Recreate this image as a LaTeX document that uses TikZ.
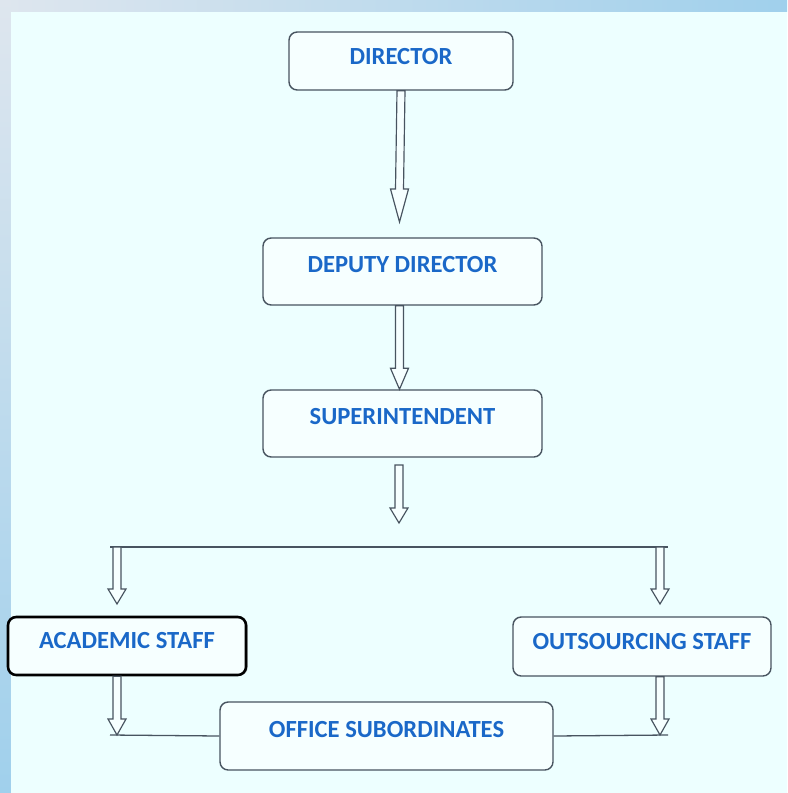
\documentclass[tikz,border=0pt]{standalone}
\usepackage{fontspec}
\setmainfont{Carlito}
\usetikzlibrary{calc,shadows}
\definecolor{bgcyan}{RGB}{237,255,255}
\definecolor{framegray}{RGB}{222,230,238}
\definecolor{frameblue}{RGB}{160,208,236}
\definecolor{boxfill}{RGB}{246,255,255}
\definecolor{boxline}{RGB}{72,84,96}
\definecolor{titleblue}{RGB}{26,104,200}
\newcommand{\hollowarrow}[3]{%
	\draw[arrowline] ($(#1)+(-4,0)$) -- ($(#2)+(-4,#3)$) -- ($(#2)+(-9,#3)$) -- (#2)
		-- ($(#2)+(9,#3)$) -- ($(#2)+(4,#3)$) -- ($(#1)+(4,0)$) -- cycle;}
\begin{document}
\begin{tikzpicture}[x=0.03cm, y=0.03cm]
		\tikzstyle{post}=[draw=boxline, line width=1.2pt, rounded corners=7pt, fill=boxfill, inner sep=0pt, text=titleblue, font=\fontsize{21}{24}\selectfont\bfseries, text height=0.55cm, text depth=0.49cm]
		\tikzstyle{marked}=[draw=black, line width=2.2pt, drop shadow={shadow xshift=1.5pt, shadow yshift=-0.5pt, opacity=0.45, fill=gray}]
		\tikzstyle{arrowline}=[draw=boxline, line width=1pt, fill=boxfill, line join=miter]
		\tikzstyle{linkline}=[boxline, line width=1.1pt]
		\useasboundingbox (0,0) rectangle (787,-793);
		\shade [left color=framegray, right color=frameblue] (0,0) rectangle (787,-12);
		\shade [top color=framegray, bottom color=frameblue] (0,0) rectangle (11,-793);
		\fill [bgcyan] (11,-12) rectangle (787,-793);
		\node [post, text depth=0.36cm, minimum width=6.72cm, minimum height=1.74cm] (director) at (401,-61) {DIRECTOR};
		\node [post, minimum width=8.37cm, minimum height=2.01cm] (deputy) at (402.5,-271.5) {DEPUTY DIRECTOR};
		\node [post, minimum width=8.37cm, minimum height=2.01cm] (superint) at (402.5,-423.5) {SUPERINTENDENT};
		\node [post, marked, text depth=0.4cm, minimum width=7.14cm, minimum height=1.74cm] (academic) at (127,-646) {ACADEMIC STAFF\hspace{0.3cm}};
		\node [post, text depth=0.4cm, minimum width=7.74cm, minimum height=1.77cm] (outsourcing) at (642,-646.5) {OUTSOURCING STAFF};
		\node [post, minimum width=9.99cm, minimum height=2.04cm] (office) at (386.5,-736) {OFFICE SUBORDINATES};
		\coordinate (dirTip) at (399.5,-222);
		\coordinate (supIn) at (399,-465);
		\coordinate (supTip) at (399,-523);
		\coordinate (splitL) at (110,-547);
		\coordinate (splitR) at (668,-547);
		\coordinate (acadIn) at (117,-547);
		\coordinate (acadTip) at (117,-604);
		\coordinate (outIn) at (660,-547);
		\coordinate (outTip) at (660,-604);
		\coordinate (footL) at (110,-735);
		\coordinate (footR) at (668,-735);
		\coordinate (depOut) at (deputy.south -| dirTip);
		\coordinate (supTop) at (superint.north -| dirTip);
		\coordinate (acadOut) at (academic.south -| acadIn);
		\coordinate (acadFoot) at (footL -| acadIn);
		\coordinate (outOut) at (outsourcing.south -| outIn);
		\coordinate (outFoot) at (footR -| outIn);
		\draw [linkline] (splitL) -- (splitR);
		\draw [linkline] (footL) -- (office.west);
		\draw [linkline] (office.east) -- (footR);
		\hollowarrow{director.south}{dirTip}{33}
		\hollowarrow{depOut}{supTop}{21}
		\hollowarrow{supIn}{supTip}{15}
		\hollowarrow{acadIn}{acadTip}{15}
		\hollowarrow{outIn}{outTip}{15}
		\hollowarrow{acadOut}{acadFoot}{16}
		\hollowarrow{outOut}{outFoot}{16}
	\end{tikzpicture}
\end{document}
